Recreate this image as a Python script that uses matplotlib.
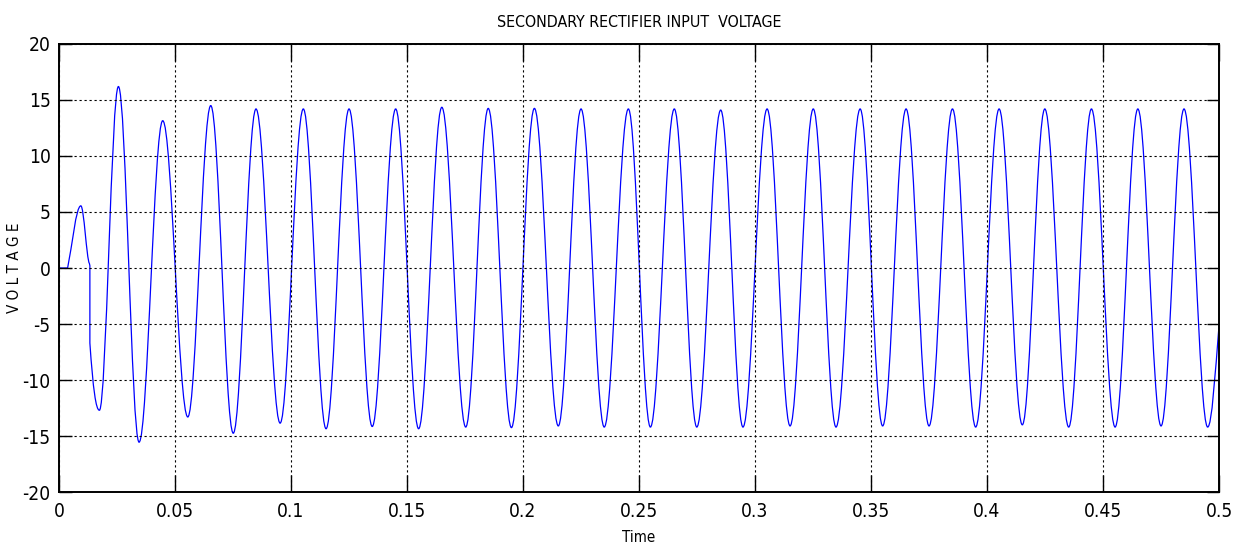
import matplotlib
matplotlib.use("Agg")
import matplotlib.pyplot as plt
import numpy as np
from matplotlib import font_manager
from matplotlib.path import Path
from matplotlib.patches import PathPatch

# knots of the trace: time, voltage, slope (V/s) at the knot
# slope 0 means a peak or a trough
knot_t = [0.0, 0.0037, 0.0094, 0.0131, 0.0133, 0.0133, 0.0174,
          0.0256, 0.0345, 0.0447, 0.0555, 0.0654, 0.0751, 0.0849, 0.0953,
          0.1053, 0.1151, 0.1250, 0.1350, 0.1451, 0.1550, 0.1650, 0.1753,
          0.1850, 0.1950, 0.2049, 0.2152, 0.2250, 0.2350, 0.2454, 0.2549,
          0.2652, 0.2749, 0.2852, 0.2948, 0.3052, 0.3151, 0.3251, 0.3349,
          0.3453, 0.3550, 0.3651, 0.3750, 0.3851, 0.3951, 0.4052, 0.4152,
          0.4249, 0.4352, 0.4450, 0.4552, 0.4650, 0.4750, 0.4849, 0.4951,
          0.5000]
knot_v = [0.0, 0.0, 5.55, 0.4, 0.2, -6.7, -12.7,
          16.2, -15.55, 13.15, -13.3, 14.5, -14.75, 14.2, -13.85,
          14.2, -14.35, 14.2, -14.15, 14.2, -14.35, 14.35, -14.2,
          14.25, -14.25, 14.25, -14.1, 14.2, -14.2, 14.2, -14.2,
          14.2, -14.2, 14.1, -14.2, 14.2, -14.1, 14.2, -14.2,
          14.2, -14.1, 14.2, -14.1, 14.2, -14.2, 14.2, -14.0,
          14.2, -14.2, 14.2, -14.2, 14.2, -14.1, 14.2, -14.2,
          -5.1]
knot_s = [0, 1000, 0, -300, -300, -3000, 0] + [0] * 48 + [2600]

xticks = [0, 0.05, 0.1, 0.15, 0.2, 0.25, 0.3, 0.35, 0.4, 0.45, 0.5]
xticklabels = ["0", "0.05", "0.1", "0.15", "0.2", "0.25", "0.3", "0.35", "0.4", "0.45", "0.5"]
yticks = [-20, -15, -10, -5, 0, 5, 10, 15, 20]

plt.rcParams["axes.unicode_minus"] = False

# narrow font if one is there, else plain Liberation Sans
have = {(f.name, f.stretch) for f in font_manager.fontManager.ttflist}
font = {"family": "Liberation Sans"}
size_scale = 0.88
for name, stretch in have:
    if name == "Liberation Sans Narrow":
        font = {"family": "Liberation Sans Narrow"}
        size_scale = 1.0
        break
    if name == "DejaVu Sans" and stretch == "condensed":
        font = {"family": "DejaVu Sans", "stretch": "condensed"}
        size_scale = 0.95

# build the trace as bezier segments (half-cosine like between extrema)
a = 1 - 2 / np.pi
verts = [(knot_t[0], knot_v[0])]
codes = [Path.MOVETO]
for i in range(len(knot_t) - 1):
    t0, v0, s0 = knot_t[i], knot_v[i], knot_s[i]
    t1, v1, s1 = knot_t[i + 1], knot_v[i + 1], knot_s[i + 1]
    dt = t1 - t0
    if dt <= 0 or v0 == v1:
        verts.append((t1, v1))
        codes.append(Path.LINETO)
        continue
    h0 = a * dt if s0 == 0 else dt / 3
    h1 = a * dt if s1 == 0 else dt / 3
    verts += [(t0 + h0, v0 + s0 * h0), (t1 - h1, v1 - s1 * h1), (t1, v1)]
    codes += [Path.CURVE4] * 3

fig = plt.figure(figsize=(12.4, 5.45), dpi=100)
ax = fig.add_axes([0.0476, 0.0972, 0.9355, 0.8221])

ax.add_patch(PathPatch(Path(verts, codes), facecolor="none",
                       edgecolor="#0000ff", lw=0.9))

ax.set_xlim(0, 0.5)
ax.set_ylim(-20, 20)
ax.set_xticks(xticks)
ax.set_xticklabels(xticklabels)
ax.set_yticks(yticks)
ax.grid(True, color="black", linestyle=(0, (2, 2.5)), linewidth=0.8)
ax.tick_params(direction="in", top=True, right=True, width=1,
               labelsize=14.5 * size_scale, pad=7)
ax.tick_params(axis="x", length=12)
ax.tick_params(axis="y", length=9, pad=6)
for lab in ax.get_xticklabels() + ax.get_yticklabels():
    lab.set(**font)
for sp in ax.spines.values():
    sp.set_linewidth(1.4)

ax.set_title("SECONDARY RECTIFIER INPUT  VOLTAGE", fontsize=12 * size_scale, pad=12, **font)
ax.set_xlabel("Time", fontsize=11.5 * size_scale, labelpad=7, **font)
ax.set_ylabel("V O L T A G E", fontsize=11.5 * size_scale, va="center", **font)
ax.yaxis.set_label_coords(-0.038, 0.5)

fig.savefig("out.png", dpi=100)
